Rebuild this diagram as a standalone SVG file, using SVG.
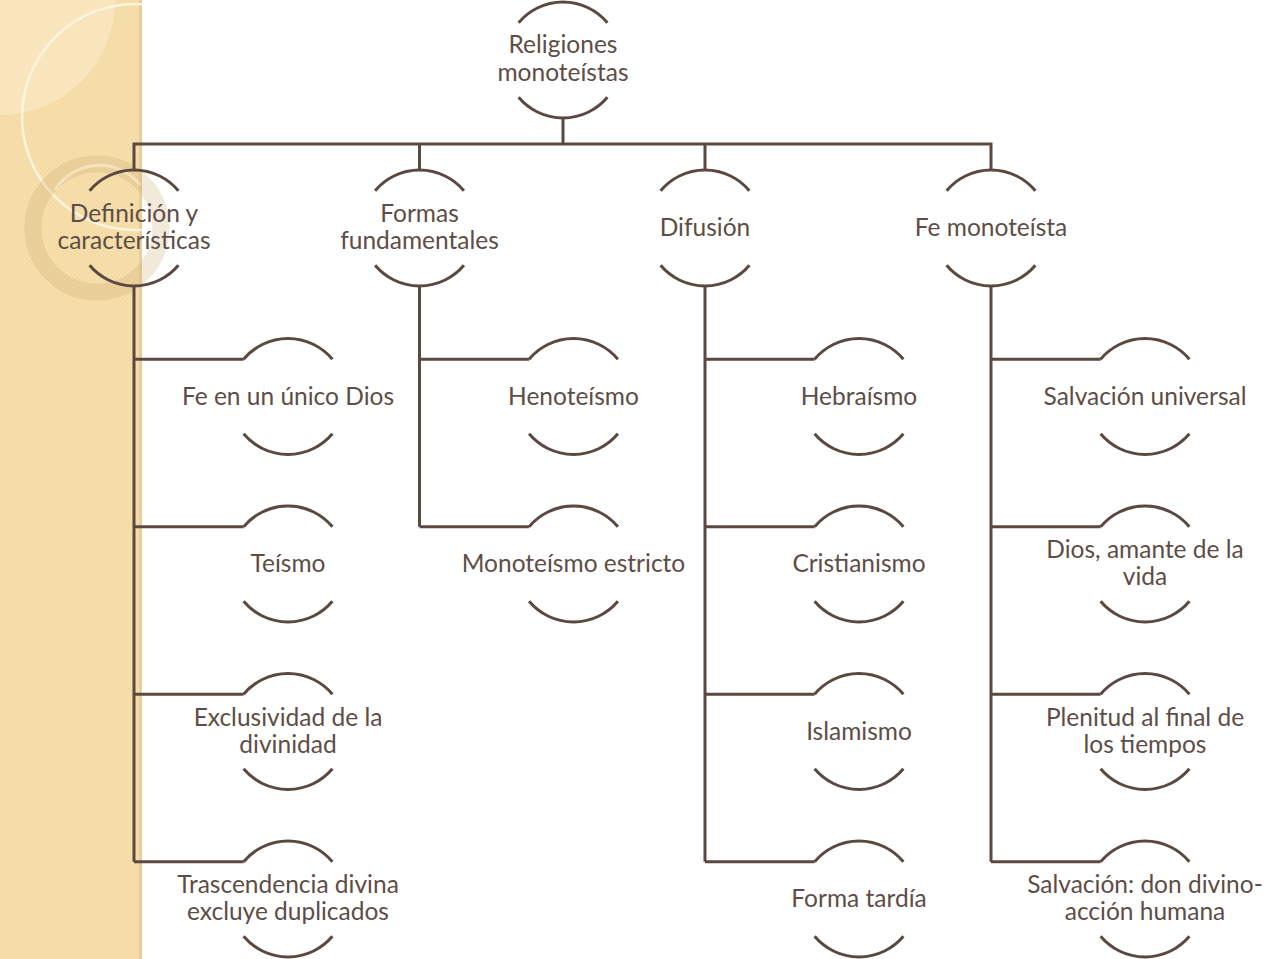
<svg xmlns="http://www.w3.org/2000/svg" width="1278" height="959" viewBox="0 0 1278 959">
<style>
.ln{fill:none;stroke:#5b4941;stroke-width:3}
.arc{fill:none;stroke:#5b4941;stroke-width:3}
.t{font-family:Lato,"Open Sans","Liberation Sans",sans-serif;font-size:24.5px;fill:#5e4d46;text-anchor:middle}
</style>
<defs>
<pattern id="chk" width="4" height="4" patternUnits="userSpaceOnUse">
<rect width="4" height="4" fill="#f6dfac"/>
<rect width="2" height="2" fill="#f3dba5"/>
<rect x="2" y="2" width="2" height="2" fill="#f3dba5"/>
</pattern>
<clipPath id="strip"><rect x="0" y="0" width="142" height="959"/></clipPath>
<g id="node">
<path class="arc" d="M-44.4 -37.3 A58 58 0 0 1 44.4 -37.3"/>
<path class="arc" d="M-44.4 37.3 A58 58 0 0 0 44.4 37.3"/>
</g>
</defs>
<rect width="1278" height="959" fill="#ffffff"/>
<g id="background">
<rect x="0" y="0" width="142" height="959" fill="url(#chk)"/>
<path d="M0 0 H115 A115 115 0 0 1 0 115 Z" fill="#f9e8c4" opacity="0.75"/>
<rect x="139" y="0" width="3" height="959" fill="#e9cf97"/>
<g clip-path="url(#strip)">
<circle cx="135" cy="117" r="113" fill="none" stroke="#fdf4de" stroke-width="2.5"/>
</g>
<circle cx="97" cy="228" r="64" fill="none" stroke="#c9a96a" stroke-opacity="0.25" stroke-width="17"/>
<path d="M55 190 A52 52 0 0 1 140 185" fill="none" stroke="#fff6e4" stroke-opacity="0.5" stroke-width="3"/>
</g>
<g id="connectors">
<path class="ln" d="M563 118 V144 M132.5 144 H992.5 M134 144 V170 M419.5 144 V170 M705 144 V170 M991 144 V170"/>
<path class="ln" d="M134 286 V861.7 M134 359.2 H243.6 M134 526.7 H243.6 M134 694.2 H243.6 M134 861.7 H243.6"/>
<path class="ln" d="M419.5 286 V526.7 M419.5 359.2 H529.1 M419.5 526.7 H529.1"/>
<path class="ln" d="M705 286 V861.7 M705 359.2 H814.6 M705 526.7 H814.6 M705 694.2 H814.6 M705 861.7 H814.6"/>
<path class="ln" d="M991 286 V861.7 M991 359.2 H1100.6 M991 526.7 H1100.6 M991 694.2 H1100.6 M991 861.7 H1100.6"/>
</g>
<g id="n-root"><use href="#node" x="563" y="60"/><text class="t" x="563" y="53">Religiones</text><text class="t" x="563" y="81">monoteístas</text></g>
<g id="n-def"><use href="#node" x="134" y="228"/><text class="t" x="134" y="222">Definición y</text><text class="t" x="134" y="249">características</text></g>
<g id="n-formas"><use href="#node" x="419.5" y="228"/><text class="t" x="419.5" y="222">Formas</text><text class="t" x="419.5" y="249">fundamentales</text></g>
<g id="n-difusion"><use href="#node" x="705" y="228"/><text class="t" x="705" y="236">Difusión</text></g>
<g id="n-fe"><use href="#node" x="991" y="228"/><text class="t" x="991" y="236">Fe monoteísta</text></g>

<g id="n-unico"><use href="#node" x="288" y="396.5"/><text class="t" x="288" y="404.5">Fe en un único Dios</text></g>
<g id="n-teismo"><use href="#node" x="288" y="564"/><text class="t" x="288" y="572">Teísmo</text></g>
<g id="n-exclusividad"><use href="#node" x="288" y="731.5"/><text class="t" x="288" y="725.5">Exclusividad de la</text><text class="t" x="288" y="752.5">divinidad</text></g>
<g id="n-trascendencia"><use href="#node" x="288" y="899"/><text class="t" x="288" y="893">Trascendencia divina</text><text class="t" x="288" y="920">excluye duplicados</text></g>

<g id="n-henoteismo"><use href="#node" x="573.5" y="396.5"/><text class="t" x="573.5" y="404.5">Henoteísmo</text></g>
<g id="n-estricto"><use href="#node" x="573.5" y="564"/><text class="t" x="573.5" y="572">Monoteísmo estricto</text></g>

<g id="n-hebraismo"><use href="#node" x="859" y="396.5"/><text class="t" x="859" y="404.5">Hebraísmo</text></g>
<g id="n-cristianismo"><use href="#node" x="859" y="564"/><text class="t" x="859" y="572">Cristianismo</text></g>
<g id="n-islamismo"><use href="#node" x="859" y="731.5"/><text class="t" x="859" y="739.5">Islamismo</text></g>
<g id="n-tardia"><use href="#node" x="859" y="899"/><text class="t" x="859" y="907">Forma tardía</text></g>

<g id="n-universal"><use href="#node" x="1145" y="396.5"/><text class="t" x="1145" y="404.5">Salvación universal</text></g>
<g id="n-amante"><use href="#node" x="1145" y="564"/><text class="t" x="1145" y="558">Dios, amante de la</text><text class="t" x="1145" y="585">vida</text></g>
<g id="n-plenitud"><use href="#node" x="1145" y="731.5"/><text class="t" x="1145" y="725.5">Plenitud al final de</text><text class="t" x="1145" y="752.5">los tiempos</text></g>
<g id="n-don"><use href="#node" x="1145" y="899"/><text class="t" x="1145" y="893">Salvación: don divino-</text><text class="t" x="1145" y="920">acción humana</text></g>
</svg>
